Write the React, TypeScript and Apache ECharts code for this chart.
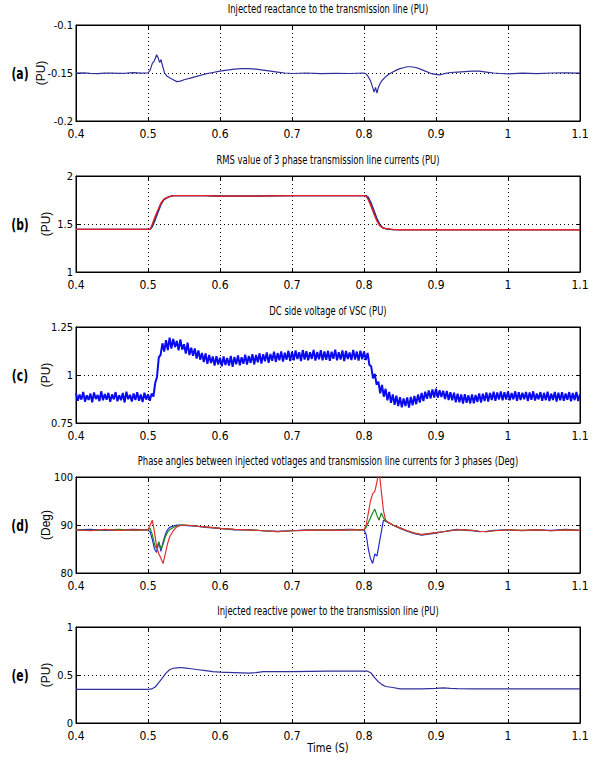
import React, { useEffect, useRef } from "react";
import * as echarts from "echarts";

// ---------- texts ----------
const panelTitles = [
  "Injected reactance to the transmission line (PU)",
  "RMS value of 3 phase transmission line currents (PU)",
  "DC side voltage of VSC (PU)",
  "Phase angles between injected votlages and transmission line currents for 3 phases (Deg)",
  "Injected reactive power to the transmission line (PU)",
];
const panelTags = ["(a)", "(b)", "(c)", "(d)", "(e)"];
const yNames = ["(PU)", "(PU)", "(PU)", "(Deg)", "(PU)"];
const xName = "Time (S)";

// ---------- axes ----------
const xMin = 0.4;
const xMax = 1.1;
const xInterval = 0.1;
const yMins = [-0.2, 1, 0.75, 80, 0];
const yMaxs = [-0.1, 2, 1.25, 100, 1];
const yIntervals = [0.05, 0.5, 0.25, 10, 0.5];

// ---------- (a) injected reactance ----------
const tA = [0.4, 0.41, 0.42, 0.43, 0.44, 0.45, 0.46, 0.47, 0.48, 0.49, 0.5, 0.503, 0.506, 0.509, 0.512, 0.514, 0.516, 0.518, 0.52, 0.523, 0.526, 0.53, 0.535, 0.54, 0.545, 0.55, 0.56, 0.57, 0.58, 0.59, 0.6, 0.61, 0.62, 0.63, 0.64, 0.65, 0.66, 0.67, 0.68, 0.69, 0.7, 0.72, 0.74, 0.76, 0.78, 0.8, 0.803, 0.806, 0.809, 0.812, 0.814, 0.816, 0.818, 0.82, 0.823, 0.826, 0.83, 0.835, 0.84, 0.845, 0.85, 0.855, 0.86, 0.865, 0.87, 0.875, 0.88, 0.885, 0.89, 0.895, 0.9, 0.905, 0.91, 0.92, 0.93, 0.94, 0.95, 0.96, 0.97, 0.98, 0.99, 1.0, 1.02, 1.04, 1.06, 1.08, 1.1];
const vA = [-0.1502, -0.1498, -0.1504, -0.1506, -0.1502, -0.15, -0.1503, -0.1501, -0.1497, -0.1502, -0.15, -0.147, -0.14, -0.137, -0.131, -0.134, -0.139, -0.136, -0.142, -0.15, -0.153, -0.155, -0.157, -0.159, -0.1585, -0.157, -0.155, -0.153, -0.151, -0.1495, -0.148, -0.147, -0.146, -0.1455, -0.1455, -0.146, -0.147, -0.148, -0.149, -0.15, -0.1505, -0.15, -0.1507, -0.1503, -0.1505, -0.15, -0.151, -0.154, -0.158, -0.165, -0.17, -0.165, -0.171, -0.165, -0.16, -0.157, -0.154, -0.151, -0.149, -0.147, -0.1455, -0.1445, -0.1435, -0.1435, -0.144, -0.145, -0.1465, -0.148, -0.1495, -0.151, -0.1515, -0.152, -0.151, -0.1495, -0.149, -0.1485, -0.148, -0.148, -0.149, -0.15, -0.1505, -0.151, -0.1502, -0.1506, -0.15, -0.1498, -0.1502];

// ---------- (b) RMS currents, 3 phases ----------
const tB = [0.4, 0.503, 0.506, 0.51, 0.514, 0.518, 0.522, 0.526, 0.53, 0.535, 0.54, 0.56, 0.58, 0.6, 0.62, 0.65, 0.66, 0.7, 0.75, 0.8, 0.803, 0.806, 0.81, 0.814, 0.818, 0.822, 0.826, 0.83, 0.835, 0.84, 0.85, 0.9, 0.95, 1.0, 1.05, 1.1];
const vBblue = [1.445, 1.445, 1.47, 1.54, 1.62, 1.7, 1.75, 1.77, 1.785, 1.795, 1.795, 1.795, 1.795, 1.79, 1.79, 1.79, 1.792, 1.795, 1.795, 1.795, 1.795, 1.78, 1.72, 1.64, 1.56, 1.5, 1.46, 1.45, 1.445, 1.44, 1.44, 1.44, 1.44, 1.44, 1.44, 1.44];
const vBblack = [1.445, 1.445, 1.48, 1.56, 1.64, 1.71, 1.755, 1.772, 1.785, 1.795, 1.795, 1.795, 1.795, 1.79, 1.79, 1.79, 1.792, 1.795, 1.795, 1.795, 1.792, 1.765, 1.7, 1.62, 1.545, 1.49, 1.46, 1.452, 1.447, 1.44, 1.44, 1.44, 1.44, 1.44, 1.44, 1.44];
const vBred = [1.445, 1.445, 1.5, 1.58, 1.65, 1.72, 1.76, 1.775, 1.785, 1.795, 1.795, 1.795, 1.795, 1.79, 1.79, 1.79, 1.792, 1.795, 1.795, 1.795, 1.79, 1.75, 1.68, 1.6, 1.53, 1.48, 1.46, 1.455, 1.45, 1.445, 1.44, 1.44, 1.44, 1.44, 1.44, 1.44];

// ---------- (c) DC side voltage, sampled every 2.5 ms from 0.4 s ----------
const cStart = 0.4;
const cStep = 0.0025;
const vC = [
  0.905, 0.866, 0.898, 0.872, 0.912, 0.861, 0.894, 0.87, 0.903, 0.858, 0.909, 0.875, 0.896, 0.864, 0.915, 0.868, 0.901, 0.871, 0.907, 0.86,
  0.899, 0.873, 0.911, 0.863, 0.895, 0.869, 0.906, 0.857, 0.913, 0.874, 0.897, 0.862, 0.904, 0.87, 0.91, 0.866, 0.898, 0.859, 0.908, 0.872,
  0.9, 0.866, 0.903, 0.888, 0.958, 0.99, 1.092, 1.105, 1.165, 1.122, 1.182, 1.13, 1.195, 1.138, 1.188, 1.145, 1.178, 1.128, 1.185, 1.132,
  1.16, 1.112, 1.168, 1.104, 1.142, 1.1, 1.138, 1.086, 1.128, 1.08, 1.115, 1.068, 1.112, 1.058, 1.105, 1.062, 1.096, 1.049, 1.098, 1.055,
  1.09, 1.045, 1.097, 1.052, 1.088, 1.049, 1.099, 1.043, 1.094, 1.056, 1.102, 1.05, 1.093, 1.058, 1.106, 1.054, 1.099, 1.063, 1.108, 1.055,
  1.104, 1.066, 1.113, 1.06, 1.108, 1.071, 1.117, 1.063, 1.11, 1.074, 1.121, 1.068, 1.114, 1.077, 1.123, 1.07, 1.116, 1.08, 1.126, 1.072,
  1.121, 1.076, 1.128, 1.083, 1.119, 1.073, 1.13, 1.081, 1.124, 1.077, 1.118, 1.084, 1.131, 1.075, 1.12, 1.082, 1.129, 1.076, 1.123, 1.079,
  1.126, 1.074, 1.121, 1.085, 1.132, 1.077, 1.119, 1.08, 1.128, 1.073, 1.125, 1.083, 1.117, 1.078, 1.131, 1.081, 1.122, 1.075, 1.127, 1.082,
  1.122, 1.078, 1.115, 1.052, 1.045, 0.982, 1.006, 0.95, 0.965, 0.905, 0.948, 0.887, 0.928, 0.868, 0.912, 0.855, 0.899, 0.845, 0.892, 0.838,
  0.884, 0.832, 0.878, 0.838, 0.883, 0.83, 0.886, 0.842, 0.891, 0.848, 0.898, 0.857, 0.907, 0.864, 0.913, 0.876, 0.92, 0.878, 0.925, 0.883,
  0.928, 0.882, 0.921, 0.886, 0.918, 0.875, 0.917, 0.87, 0.91, 0.868, 0.908, 0.858, 0.903, 0.858, 0.899, 0.851, 0.9, 0.855, 0.894, 0.852,
  0.899, 0.853, 0.896, 0.86, 0.904, 0.856, 0.902, 0.865, 0.909, 0.862, 0.906, 0.87, 0.913, 0.866, 0.909, 0.873, 0.914, 0.868, 0.91, 0.872,
  0.914, 0.868, 0.906, 0.873, 0.915, 0.866, 0.91, 0.87, 0.908, 0.874, 0.912, 0.865, 0.909, 0.871, 0.915, 0.867, 0.904, 0.873, 0.911, 0.866,
  0.907, 0.869, 0.913, 0.864, 0.903, 0.87, 0.912, 0.862, 0.908, 0.868, 0.91, 0.866, 0.904, 0.871, 0.911, 0.863, 0.906, 0.869, 0.912, 0.864,
  0.9,
];

// ---------- (d) phase angles, 3 phases ----------
const tD = [0.4, 0.42, 0.44, 0.46, 0.48, 0.5, 0.503, 0.506, 0.509, 0.512, 0.515, 0.518, 0.521, 0.524, 0.527, 0.53, 0.535, 0.54, 0.545, 0.55, 0.56, 0.57, 0.58, 0.6, 0.62, 0.64, 0.66, 0.68, 0.7, 0.72, 0.74, 0.76, 0.78, 0.8, 0.803, 0.806, 0.809, 0.812, 0.815, 0.818, 0.821, 0.824, 0.827, 0.83, 0.835, 0.84, 0.85, 0.86, 0.87, 0.88, 0.89, 0.9, 0.91, 0.92, 0.93, 0.94, 0.95, 0.96, 0.97, 0.98, 1.0, 1.02, 1.04, 1.06, 1.08, 1.1];
const vDblue = [89.0, 89.1, 88.9, 89.0, 89.1, 89.0, 88.5, 87.0, 85.0, 84.3, 86.5, 84.5, 86.5, 88.0, 89.0, 89.5, 89.8, 90.0, 90.0, 89.9, 89.8, 89.7, 89.5, 89.3, 89.0, 89.0, 88.8, 88.7, 88.8, 89.0, 88.9, 89.0, 89.1, 89.0, 88.0, 85.0, 83.0, 82.0, 84.0, 83.5, 86.0, 88.5, 91.0, 90.8, 90.4, 90.0, 89.3, 88.7, 88.2, 87.9, 88.1, 88.3, 88.6, 88.9, 89.1, 88.9, 88.8, 88.6, 88.7, 88.9, 89.0, 88.8, 89.0, 88.9, 89.1, 88.9];
const vDgreen = [89.0, 88.9, 89.0, 89.1, 88.9, 89.0, 89.3, 88.0, 86.0, 85.0, 86.5, 85.0, 86.0, 87.5, 88.5, 89.0, 89.5, 89.8, 90.0, 90.0, 89.9, 89.7, 89.6, 89.3, 89.1, 89.0, 88.8, 88.6, 88.8, 88.9, 89.0, 88.9, 89.0, 89.0, 89.5, 90.5, 91.5, 92.5, 93.3, 92.0, 91.0, 92.5, 91.5, 90.8, 90.4, 90.0, 89.4, 88.8, 88.3, 88.0, 88.2, 88.4, 88.6, 88.8, 89.0, 89.0, 88.9, 88.7, 88.6, 88.8, 89.0, 88.9, 89.0, 88.8, 89.0, 88.9];
const vDred = [89.0, 88.8, 89.1, 88.9, 89.0, 89.0, 90.0, 91.0, 88.5, 85.5, 84.0, 83.0, 82.0, 84.0, 86.0, 87.5, 88.8, 89.6, 89.9, 90.0, 89.9, 89.7, 89.6, 89.3, 89.1, 89.0, 88.8, 88.6, 88.8, 88.9, 89.0, 88.9, 89.0, 89.0, 90.0, 92.5, 95.0, 96.5, 97.0, 99.0, 101.5, 97.0, 93.0, 91.0, 90.4, 90.0, 89.4, 88.8, 88.3, 88.0, 88.2, 88.4, 88.6, 88.8, 89.0, 89.0, 88.9, 88.7, 88.6, 88.8, 89.0, 88.9, 89.0, 88.8, 89.0, 88.9];

// ---------- (e) injected reactive power ----------
const tE = [0.4, 0.45, 0.5, 0.505, 0.51, 0.515, 0.52, 0.525, 0.53, 0.535, 0.54, 0.545, 0.55, 0.56, 0.57, 0.58, 0.59, 0.6, 0.62, 0.64, 0.65, 0.66, 0.7, 0.75, 0.8, 0.805, 0.81, 0.815, 0.82, 0.825, 0.83, 0.835, 0.84, 0.85, 0.86, 0.88, 0.9, 0.91, 0.92, 0.93, 0.95, 1.0, 1.05, 1.1];
const vE = [0.35, 0.35, 0.35, 0.355, 0.375, 0.42, 0.47, 0.52, 0.555, 0.57, 0.575, 0.578, 0.575, 0.565, 0.555, 0.545, 0.535, 0.53, 0.525, 0.52, 0.525, 0.535, 0.535, 0.54, 0.54, 0.54, 0.52, 0.47, 0.43, 0.4, 0.38, 0.375, 0.37, 0.355, 0.355, 0.355, 0.36, 0.365, 0.36, 0.358, 0.355, 0.355, 0.355, 0.355];

// ---------- layout ----------
const W = 593;
const H = 767;
const gridLeft = 76;
const gridWidth = 504;
const gridTops = [25, 176, 327, 477, 627];
const gridHeight = 96;
const nameGaps = [29, 24, 24, 24, 24];
const NARROW = "'Liberation Sans Narrow', 'Arial Narrow', 'DejaVu Sans Condensed', sans-serif";
const SANS = "'Liberation Sans', Arial, sans-serif";

const zip = (t: number[], v: number[]) => t.map((x, i) => [x, v[i]]);

function buildOption() {
  const grid = gridTops.map((top) => ({
    left: gridLeft,
    top,
    width: gridWidth,
    height: gridHeight,
    show: true,
    borderColor: "#000",
    borderWidth: 1,
    backgroundColor: "#fff",
  }));

  const xAxis: any[] = [];
  const yAxis: any[] = [];
  for (let i = 0; i < 5; i++) {
    xAxis.push({
      type: "value",
      gridIndex: i,
      min: xMin,
      max: xMax,
      interval: xInterval,
      position: "bottom",
      axisLine: { show: true, onZero: false, lineStyle: { color: "#000", width: 1 } },
      axisTick: { show: true, inside: true, length: 4, lineStyle: { color: "#000" } },
      axisLabel: { show: true, color: "#000", fontSize: 12, fontFamily: NARROW, margin: 7, hideOverlap: false },
      splitLine: { show: true, lineStyle: { color: "#000", type: [1, 3], width: 1 } },
    });
    yAxis.push({
      type: "value",
      gridIndex: i,
      min: yMins[i],
      max: yMaxs[i],
      interval: yIntervals[i],
      position: "left",
      name: yNames[i],
      nameLocation: "middle",
      nameRotate: 90,
      nameGap: nameGaps[i],
      nameMoveOverlap: false,
      nameTextStyle: { color: "#000", fontSize: 12, fontFamily: SANS },
      axisLine: { show: true, onZero: false, lineStyle: { color: "#000", width: 1 } },
      axisTick: { show: true, inside: true, length: 4, lineStyle: { color: "#000" } },
      axisLabel: { show: true, color: "#000", fontSize: 11, fontFamily: NARROW, margin: 3, hideOverlap: false },
      splitLine: { show: true, lineStyle: { color: "#000", type: [1, 3], width: 1 } },
    });
  }
  for (let i = 0; i < 5; i++) {
    xAxis.push({
      type: "value",
      gridIndex: i,
      min: xMin,
      max: xMax,
      interval: xInterval,
      position: "top",
      axisLine: { show: true, onZero: false, lineStyle: { color: "#000" } },
      axisTick: { show: true, inside: true, length: 4, lineStyle: { color: "#000" } },
      axisLabel: { show: false },
      splitLine: { show: false },
    });
    yAxis.push({
      type: "value",
      gridIndex: i,
      min: yMins[i],
      max: yMaxs[i],
      interval: yIntervals[i],
      position: "right",
      axisLine: { show: true, onZero: false, lineStyle: { color: "#000" } },
      axisTick: { show: true, inside: true, length: 4, lineStyle: { color: "#000" } },
      axisLabel: { show: false },
      splitLine: { show: false },
    });
  }

  const line = (idx: number, data: number[][], color: string, width: number, z = 2) => ({
    type: "line",
    xAxisIndex: idx,
    yAxisIndex: idx,
    data,
    symbol: "none",
    clip: true,
    z,
    lineStyle: { color, width },
    silent: true,
  });

  const tC = vC.map((_, i) => cStart + i * cStep);

  const series = [
    line(0, zip(tA, vA), "#30309c", 1.2),
    line(1, zip(tB, vBblue), "#2a2ad0", 1.2, 2),
    line(1, zip(tB, vBblack), "#333333", 1.2, 3),
    line(1, zip(tB, vBred), "#e8202a", 1.3, 4),
    line(2, zip(tC, vC), "#0a0af0", 2),
    line(3, zip(tD, vDblue), "#2a2ad0", 1.2, 2),
    line(3, zip(tD, vDgreen), "#1a8a1a", 1.2, 3),
    line(3, zip(tD, vDred), "#e03030", 1.2, 4),
    line(4, zip(tE, vE), "#30309c", 1.2),
  ];

  const graphic: any[] = [];
  const cx = gridLeft + gridWidth / 2;
  const textStyle = (text: string, fontSize: number, fontFamily: string, fontWeight = "normal") => ({
    text,
    fontSize,
    fontFamily,
    fontWeight,
    fill: "#000",
    align: "center",
    verticalAlign: "middle",
    textAlign: "center",
    textVerticalAlign: "middle",
  });
  gridTops.forEach((top, i) => {
    graphic.push({
      type: "text",
      x: cx,
      y: top - 16,
      scaleX: 0.78,
      silent: true,
      style: textStyle(panelTitles[i], 12, NARROW),
    });
    graphic.push({
      type: "text",
      x: 20,
      y: top + gridHeight / 2,
      scaleX: 0.8,
      silent: true,
      style: textStyle(panelTags[i], 15, NARROW, "bold"),
    });
  });
  graphic.push({
    type: "text",
    x: cx,
    y: 748,
    scaleX: 0.85,
    silent: true,
    style: textStyle(xName, 13, NARROW),
  });

  return {
    animation: false,
    backgroundColor: "#fff",
    grid,
    xAxis,
    yAxis,
    series,
    graphic,
  };
}

export default function App() {
  const ref = useRef<HTMLDivElement>(null);
  useEffect(() => {
    if (!ref.current) return;
    const chart = echarts.init(ref.current, undefined, { renderer: "svg", width: W, height: H });
    chart.setOption(buildOption() as any);
    return () => chart.dispose();
  }, []);
  return (
    <div
      ref={ref}
      style={{ position: "fixed", left: 0, top: 0, width: W, height: H, background: "#fff" }}
    />
  );
}
